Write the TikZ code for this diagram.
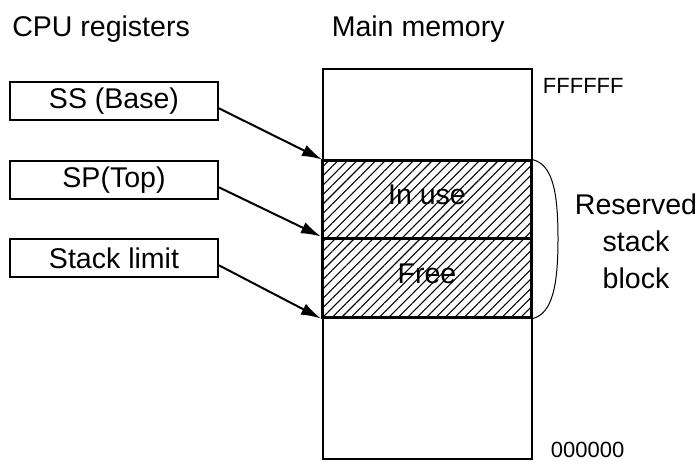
\documentclass[tikz,border=0pt]{standalone}
\usepackage{fontspec}
\setmainfont{Liberation Sans}
\usetikzlibrary{arrows.meta,patterns.meta}
\begin{document}
\begin{tikzpicture}[x=0.75pt,y=-0.75pt,
  txt/.style={font=\fontsize{21.4pt}{27.4pt}\selectfont, inner sep=0pt},
  small/.style={font=\fontsize{16.5pt}{20pt}\selectfont, inner sep=0pt},
  reg/.style={draw, line width=1.5pt, minimum width=156pt, minimum height=28.9pt,
    inner sep=0pt, font=\fontsize{21.4pt}{27.4pt}\selectfont},
  block/.style={draw, line width=2.25pt, minimum width=156.75pt, inner sep=0pt,
    pattern={Lines[angle=45,distance=5pt,line width=0.8pt]},
    font=\fontsize{21.4pt}{27.4pt}\selectfont, text height=15.3pt, text depth=6.5pt},
  arr/.style={line width=1.5pt, -{Latex[length=15pt,width=9pt]}, shorten >=0pt}]
\useasboundingbox (0,0) rectangle (698,461);

% headings
\node[txt, anchor=base west] (hcpu) at (12,36) {CPU registers};
\node[txt, anchor=base west] (hmem) at (331.5,36) {Main memory};

% CPU registers
\node[reg] (ss) at (114,101) {SS (Base)};
\node[reg] (sp) at (114,180) {SP(Top)};
\node[reg] (lim) at (114,258) {Stack limit};

% main memory column
\node[draw, line width=1.5pt, minimum width=156.75pt, minimum height=292.5pt,
  inner sep=0pt] (mem) at (427,264) {};

% stack block
\node[block, minimum height=58.5pt] (inuse) at (427,199) {In use};
\node[block, minimum height=59.25pt] (free) at (427,277.5) {Free};

% address labels
\node[small, anchor=base west] (ftop) at (542.7,93) {FFFFFF};
\node[small, anchor=base west] (zbot) at (550.7,457.5) {000000};

% register pointers
\draw[arr] (ss.-4) -- (inuse.north west);
\draw[arr] (sp.-4) -- (free.north west);
\draw[arr] (lim.-4) -- (free.south west);

% brace around the reserved block
\draw[line width=0.75pt] (inuse.north east)
  .. controls (552,164) and (558,190) .. (558,238.5)
  .. controls (558,287) and (552,313) .. (free.south east);
\node[txt, anchor=north, align=center] (res) at (636,194) {Reserved\\stack\\block};
\end{tikzpicture}
\end{document}
